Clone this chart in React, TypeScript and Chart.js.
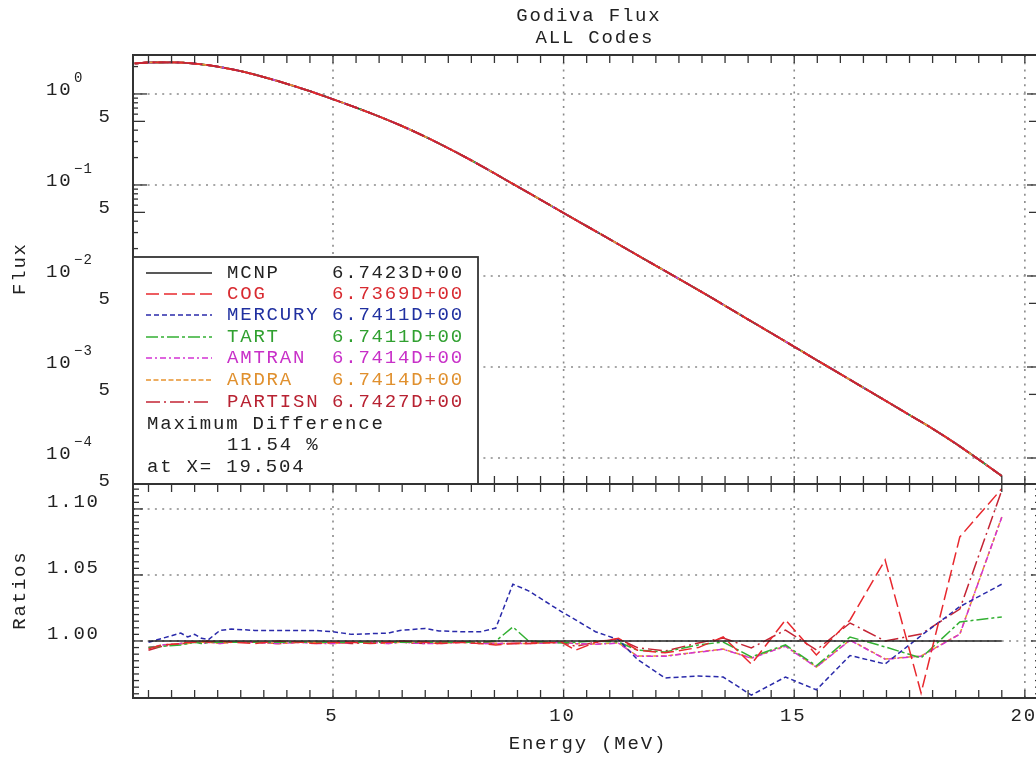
import React, { useEffect, useRef } from 'react';
import { Chart, registerables } from 'chart.js';

Chart.register(...registerables);

// ---------------- data ----------------
const codes = ['MCNP', 'COG', 'MERCURY', 'TART', 'AMTRAN', 'ARDRA', 'PARTISN'];
const integrals = ['6.7423D+00', '6.7369D+00', '6.7411D+00', '6.7411D+00', '6.7414D+00', '6.7414D+00', '6.7427D+00'];

// Top panel: flux vs energy (MeV)
const fluxE = [0.7, 1.0, 1.5, 2.0, 2.5, 3.0, 3.5, 4.0, 4.5, 5.0, 5.5, 6.0, 6.5, 7.0, 7.5, 8.0, 8.5, 9.0, 9.5, 10.0,
  10.5, 11.0, 11.5, 12.0, 12.5, 13.0, 13.5, 14.0, 14.5, 15.0, 15.5, 16.0, 16.5, 17.0, 17.5, 18.0, 18.5, 19.0, 19.5];
const fluxMCNP = [2.168, 2.218, 2.228, 2.158, 1.995, 1.778, 1.535, 1.294, 1.072, 0.875, 0.708, 0.565, 0.443, 0.339,
  0.2535, 0.1862, 0.1343, 0.0962, 0.0689, 0.0493, 0.0353, 0.0253, 0.0181, 0.01297, 0.00929, 0.00665, 0.00471, 0.00333,
  0.00236, 0.00167, 0.00118, 0.000838, 0.000593, 0.00042, 0.000297, 0.00021, 0.000144, 0.0000962, 0.0000635];

// Bottom panel: ratios to MCNP
const ratioE = [1.0, 1.3, 1.7, 1.85, 2.0, 2.15, 2.3, 2.55, 2.8, 3.3, 3.8, 4.3, 4.6, 5.0, 5.4, 5.8, 6.2, 6.45, 7.0, 7.3,
  7.8, 8.2, 8.53, 8.9, 9.24, 9.96, 10.26, 10.69, 11.19, 11.6, 12.2, 12.92, 13.46, 14.07, 14.81, 15.48, 16.21, 16.97,
  17.75, 18.59, 19.5];
const ratioMCNP = [1, 1, 1, 1, 1, 1, 1, 1, 1, 1, 1, 1, 1, 1, 1, 1, 1, 1, 1, 1, 1, 1, 1, 1, 1, 1, 1, 1, 1, 1, 1, 1, 1, 1,
  1, 1, 1, 1, 1, 1, 1];
const ratioCOG = [0.994, 0.997, 0.998, 0.999, 0.999, 1.0, 0.999, 1.0, 0.999, 0.998, 1.0, 0.999, 0.998, 0.999, 0.999,
  0.998, 0.999, 1.0, 0.999, 0.998, 0.999, 0.998, 0.997, 0.998, 0.998, 0.999, 0.993, 0.999, 1.002, 0.993, 0.991, 0.995,
  1.003, 0.9825, 1.0159, 0.9894, 1.0159, 1.0614, 0.9606, 1.0788, 1.1154];
const ratioMERCURY = [0.999, 1.002, 1.006, 1.003, 1.005, 1.002, 1.001, 1.008, 1.009, 1.008, 1.008, 1.008, 1.008, 1.007,
  1.005, 1.0055, 1.006, 1.008, 1.0095, 1.0076, 1.007, 1.007, 1.0098, 1.043, 1.038, 1.022, 1.016, 1.007, 1.001, 0.986,
  0.972, 0.9735, 0.9727, 0.959, 0.9727, 0.963, 0.989, 0.9826, 1.004, 1.026, 1.043];
const ratioTART = [0.995, 0.996, 0.997, 0.998, 0.999, 0.998, 0.999, 0.999, 0.999, 0.999, 0.999, 0.999, 0.999, 0.999,
  0.999, 0.999, 0.999, 0.999, 0.999, 0.999, 0.999, 0.999, 1.0, 1.0106, 1.0, 0.9985, 0.999, 1.0, 0.9992, 0.993, 0.9917,
  0.997, 0.9992, 0.9879, 0.997, 0.9811, 1.003, 0.9955, 0.9871, 1.0144, 1.0182];
const ratioAMTRAN = [0.995, 0.997, 0.998, 0.999, 0.999, 0.998, 0.999, 0.998, 0.999, 0.999, 0.998, 0.999, 0.998, 0.998,
  0.999, 0.999, 0.998, 0.999, 0.998, 0.998, 0.999, 0.998, 0.998, 0.998, 0.998, 0.999, 0.998, 0.9975, 0.9983, 0.9884,
  0.9884, 0.9915, 0.9937, 0.9869, 0.996, 0.9801, 1.0006, 0.9862, 0.9884, 1.0051, 1.0937];
const ratioARDRA = [0.995, 0.997, 0.998, 0.998, 0.999, 0.999, 0.999, 0.998, 0.999, 0.999, 0.998, 0.999, 0.999, 0.998,
  0.999, 0.999, 0.998, 0.999, 0.999, 0.998, 0.999, 0.998, 0.998, 0.998, 0.998, 0.999, 0.998, 0.9977, 0.9985, 0.9886,
  0.9886, 0.9917, 0.9939, 0.9871, 0.9962, 0.9803, 1.0008, 0.9864, 0.9886, 1.0053, 1.0939];
const ratioPARTISN = [0.993, 0.996, 0.998, 0.998, 0.999, 0.999, 1.0, 0.999, 0.999, 0.999, 0.998, 0.999, 0.999, 0.999,
  0.998, 0.999, 0.999, 0.999, 0.998, 0.999, 0.999, 0.999, 0.998, 0.998, 0.999, 0.999, 0.996, 0.999, 1.0015, 0.995,
  0.9924, 0.9985, 1.0023, 0.9947, 1.0083, 0.9932, 1.0136, 1.0, 1.0053, 1.0242, 1.114];
const ratioSeries = [ratioMCNP, ratioCOG, ratioMERCURY, ratioTART, ratioAMTRAN, ratioARDRA, ratioPARTISN];

// tick labels
const topDecades = [0, -1, -2, -3, -4];
const topFives = [5e-1, 5e-2, 5e-3, 5e-4, 5e-5];
const ratioTicks = [1.1, 1.05, 1.0];
const ratioTickLabels = ['1.10', '1.05', '1.00'];
const energyTicks = [5, 10, 15, 20];

const title1 = 'Godiva Flux';
const title2 = 'ALL Codes';
const xTitle = 'Energy (MeV)';
const yTitleTop = 'Flux';
const yTitleBottom = 'Ratios';
const maxDiffLines = ['Maximum Difference', '11.54 %', 'at X= 19.504'];

// ---------------- styles ----------------
const lineColors = ['#222222', '#e8282e', '#2a2aaa', '#33b033', '#d433d4', '#e8922e', '#c42434'];
const textColors = ['#222222', '#d82a30', '#2030a0', '#30a030', '#c830c8', '#e0902e', '#b82232'];
const lineDashes: number[][] = [[], [13, 5], [5, 3], [12, 3, 3, 3], [6, 3, 2, 3], [5, 2.5], [14, 4, 2, 4]];
const topOrder = [7, 2, 6, 5, 4, 3, 1];
const FONT = '"Liberation Mono", "DejaVu Sans Mono", monospace';
const INK = '#222222';

const W = 1060;
const H = 759;
const PLOT_L = 133;
const PLOT_R = 1041;
const TOP_T = 55;
const MID = 484;
const BOT_B = 698;

function txt(ctx: CanvasRenderingContext2D, s: string, x: number, y: number, size = 19,
  color = INK, align: CanvasTextAlign = 'left', sp = 1.8) {
  ctx.save();
  ctx.font = `${size}px ${FONT}`;
  ctx.fillStyle = color;
  ctx.textAlign = align;
  ctx.textBaseline = 'middle';
  (ctx as any).letterSpacing = `${sp}px`;
  let xx = x;
  if (align === 'center') xx += sp / 2;
  if (align === 'right') xx += sp;
  ctx.fillText(s, xx, y);
  ctx.restore();
}

function dotted(ctx: CanvasRenderingContext2D, x1: number, y1: number, x2: number, y2: number) {
  ctx.save();
  ctx.strokeStyle = '#8a8a8a';
  ctx.lineWidth = 1.6;
  ctx.setLineDash([2, 5.3]);
  ctx.beginPath();
  ctx.moveTo(x1, y1);
  ctx.lineTo(x2, y2);
  ctx.stroke();
  ctx.restore();
}

function seg(ctx: CanvasRenderingContext2D, x1: number, y1: number, x2: number, y2: number, w = 1.3) {
  ctx.save();
  ctx.strokeStyle = '#333';
  ctx.lineWidth = w;
  ctx.beginPath();
  ctx.moveTo(x1, y1);
  ctx.lineTo(x2, y2);
  ctx.stroke();
  ctx.restore();
}

function xMinorTicks(ctx: CanvasRenderingContext2D, chart: any, yEdge: number, dir: number) {
  const xs = chart.scales.x;
  for (let v = 1; v <= 20.001; v += 0.5) {
    const px = xs.getPixelForValue(v);
    seg(ctx, px, yEdge, px, yEdge + dir * 8);
  }
}

const topPlugin = {
  id: 'topDecor',
  beforeDatasetsDraw(chart: any) {
    const ctx = chart.ctx as CanvasRenderingContext2D;
    const { left, right, top, bottom } = chart.chartArea;
    const xs = chart.scales.x;
    const ys = chart.scales.y;
    energyTicks.forEach((v) => {
      const px = xs.getPixelForValue(v);
      dotted(ctx, px, top, px, bottom);
    });
    topDecades.forEach((d) => {
      const py = ys.getPixelForValue(Math.pow(10, d));
      dotted(ctx, left, py, right, py);
    });
  },
  afterDatasetsDraw(chart: any) {
    const ctx = chart.ctx as CanvasRenderingContext2D;
    const { left, right, top, bottom } = chart.chartArea;
    const ys = chart.scales.y;
    for (let d = -5; d <= 0; d++) {
      for (let k = 1; k <= 9; k++) {
        const v = k * Math.pow(10, d);
        if (v < ys.min || v > ys.max) continue;
        const py = ys.getPixelForValue(v);
        const len = k === 1 ? 14 : k === 5 ? 12 : 5;
        seg(ctx, left, py, left + len, py);
        seg(ctx, right, py, right - len, py);
      }
    }
    xMinorTicks(ctx, chart, top, 1);
    xMinorTicks(ctx, chart, bottom, -1);
    ctx.save();
    ctx.strokeStyle = '#333';
    ctx.lineWidth = 2;
    ctx.strokeRect(left, top, right - left, bottom - top);
    ctx.restore();
    topDecades.forEach((d) => {
      const py = ys.getPixelForValue(Math.pow(10, d));
      txt(ctx, '10', 46, py - 4);
      const sup = d === 0 ? '0' : '\u2212' + String(-d);
      txt(ctx, sup, 74, py - 16, 14, INK, 'left', 1.2);
    });
    topFives.forEach((v) => {
      const py = ys.getPixelForValue(v);
      txt(ctx, '5', 110, py - 4, 19, INK, 'right');
    });
    txt(ctx, title1, 588, 16, 19, INK, 'center');
    txt(ctx, title2, 594, 38, 19, INK, 'center');
    ctx.save();
    ctx.translate(20, (top + bottom) / 2);
    ctx.rotate(-Math.PI / 2);
    txt(ctx, yTitleTop, 0, 0, 19, INK, 'center');
    ctx.restore();
    const bx = left, by = 257, bw = 478 - left, bh = bottom - 257;
    ctx.save();
    ctx.fillStyle = '#ffffff';
    ctx.fillRect(bx, by, bw, bh);
    ctx.strokeStyle = '#333';
    ctx.lineWidth = 1.8;
    ctx.strokeRect(bx, by, bw, bh);
    ctx.restore();
    const rowY = [273, 294, 315, 337, 358, 380, 402];
    codes.forEach((c, i) => {
      const y = rowY[i];
      ctx.save();
      ctx.strokeStyle = lineColors[i];
      ctx.lineWidth = 1.5;
      ctx.setLineDash(lineDashes[i]);
      ctx.beginPath();
      ctx.moveTo(146, y);
      ctx.lineTo(212, y);
      ctx.stroke();
      ctx.restore();
      txt(ctx, c, 227, y, 19, textColors[i]);
      txt(ctx, integrals[i], 332, y, 19, textColors[i]);
    });
    txt(ctx, maxDiffLines[0], 147, 424);
    txt(ctx, maxDiffLines[1], 227, 445);
    txt(ctx, maxDiffLines[2], 147, 467);
  },
};

const bottomPlugin = {
  id: 'bottomDecor',
  beforeDatasetsDraw(chart: any) {
    const ctx = chart.ctx as CanvasRenderingContext2D;
    const { left, right, top, bottom } = chart.chartArea;
    const xs = chart.scales.x;
    const ys = chart.scales.y;
    energyTicks.forEach((v) => {
      const px = xs.getPixelForValue(v);
      dotted(ctx, px, top, px, bottom);
    });
    ratioTicks.forEach((v) => {
      const py = ys.getPixelForValue(v);
      dotted(ctx, left, py, right, py);
    });
  },
  afterDatasetsDraw(chart: any) {
    const ctx = chart.ctx as CanvasRenderingContext2D;
    const { left, right, top, bottom } = chart.chartArea;
    const xs = chart.scales.x;
    const ys = chart.scales.y;
    for (let i = 192; i <= 224; i++) {
      const v = i * 0.005;
      if (v < ys.min || v > ys.max) continue;
      const py = ys.getPixelForValue(v);
      const len = i % 10 === 0 ? 10 : 6;
      seg(ctx, left, py, left + len, py);
      seg(ctx, right, py, right - len, py);
    }
    xMinorTicks(ctx, chart, top, 1);
    xMinorTicks(ctx, chart, bottom, -1);
    ctx.save();
    ctx.strokeStyle = '#333';
    ctx.lineWidth = 2;
    ctx.strokeRect(left, top, right - left, bottom - top);
    ctx.restore();
    ratioTicks.forEach((v, i) => {
      const py = ys.getPixelForValue(v);
      txt(ctx, ratioTickLabels[i], 98, py - 7, 19, INK, 'right');
    });
    energyTicks.forEach((v) => {
      const px = xs.getPixelForValue(v);
      txt(ctx, String(v), px - 2, 716, 19, INK, 'center');
    });
    txt(ctx, xTitle, 587, 744, 19, INK, 'center');
    ctx.save();
    ctx.translate(20, (top + bottom) / 2);
    ctx.rotate(-Math.PI / 2);
    txt(ctx, yTitleBottom, 0, 0, 19, INK, 'center');
    ctx.restore();
  },
};

const X_MIN = 0.664;
const X_MAX = 20.35;

export default function App() {
  const topRef = useRef<HTMLCanvasElement>(null);
  const botRef = useRef<HTMLCanvasElement>(null);

  useEffect(() => {
    const common = {
      responsive: false,
      animation: false as const,
      devicePixelRatio: 1,
      events: [] as any[],
      plugins: { legend: { display: false }, tooltip: { enabled: false }, title: { display: false } },
    };
    const topChart = new Chart(topRef.current as HTMLCanvasElement, {
      type: 'line',
      data: {
        datasets: codes.map((c, i) => ({
          label: c,
          data: fluxE.map((e, j) => ({ x: e, y: fluxMCNP[j] })),
          borderColor: lineColors[i],
          borderDash: lineDashes[i],
          borderWidth: 1.8,
          pointRadius: 0,
          fill: false,
          cubicInterpolationMode: 'monotone',
          order: topOrder[i],
        })),
      },
      options: {
        ...common,
        layout: { padding: { left: PLOT_L, top: TOP_T, right: W - PLOT_R, bottom: H - MID } },
        scales: {
          x: { type: 'linear', min: X_MIN, max: X_MAX, display: false },
          y: { type: 'logarithmic', min: 5.18e-5, max: 2.68, display: false },
        },
      } as any,
      plugins: [topPlugin],
    });
    const botChart = new Chart(botRef.current as HTMLCanvasElement, {
      type: 'line',
      data: {
        datasets: codes.map((c, i) => ({
          label: c,
          data: ratioE.map((e, j) => ({ x: e, y: ratioSeries[i][j] })),
          borderColor: lineColors[i],
          borderDash: lineDashes[i],
          borderWidth: 1.5,
          pointRadius: 0,
          fill: false,
          tension: 0,
        })),
      },
      options: {
        ...common,
        layout: { padding: { left: PLOT_L, top: MID, right: W - PLOT_R, bottom: H - BOT_B } },
        scales: {
          x: { type: 'linear', min: X_MIN, max: X_MAX, display: false },
          y: { type: 'linear', min: 0.9568, max: 1.1189, display: false },
        },
      } as any,
      plugins: [bottomPlugin],
    });
    return () => {
      topChart.destroy();
      botChart.destroy();
    };
  }, []);

  return (
    <div style={{ position: 'fixed', left: 0, top: 0, width: 1036, height: 759, overflow: 'hidden', background: '#ffffff' }}>
      <canvas ref={topRef} width={W} height={H} style={{ position: 'absolute', left: 0, top: 0 }} />
      <canvas ref={botRef} width={W} height={H} style={{ position: 'absolute', left: 0, top: 0 }} />
    </div>
  );
}
